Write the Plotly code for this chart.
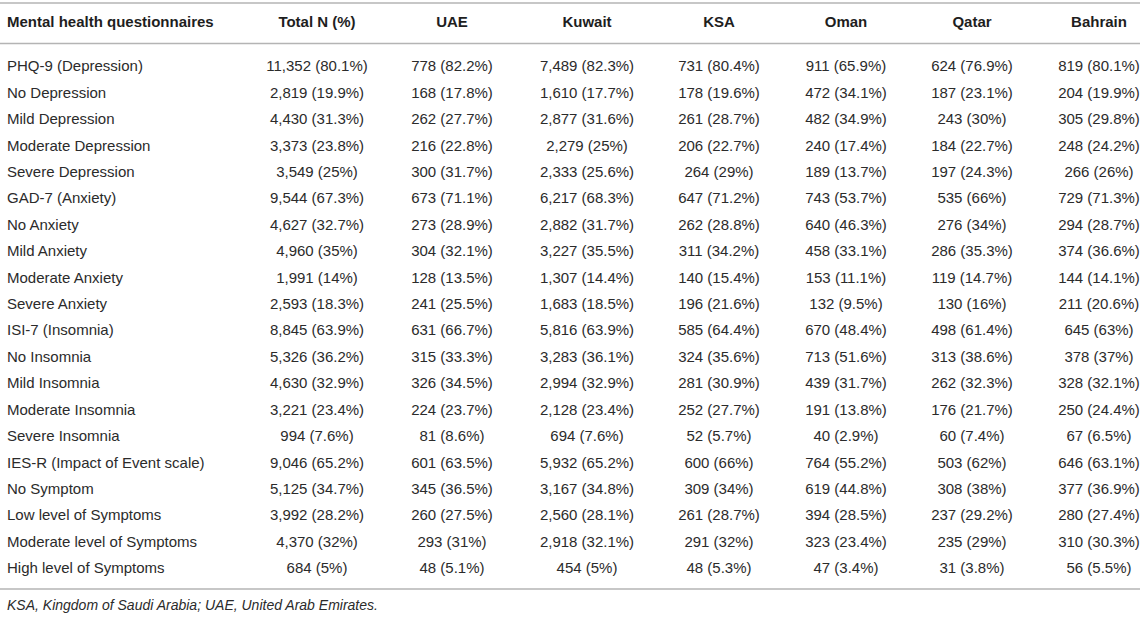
import plotly.graph_objects as go

# ---------------- data ----------------
headers = ["Mental health questionnaires", "Total N (%)", "UAE", "Kuwait", "KSA", "Oman", "Qatar", "Bahrain"]

rows = ["PHQ-9 (Depression)", "No Depression", "Mild Depression", "Moderate Depression", "Severe Depression",
        "GAD-7 (Anxiety)", "No Anxiety", "Mild Anxiety", "Moderate Anxiety", "Severe Anxiety",
        "ISI-7 (Insomnia)", "No Insomnia", "Mild Insomnia", "Moderate Insomnia", "Severe Insomnia",
        "IES-R (Impact of Event scale)", "No Symptom", "Low level of Symptoms", "Moderate level of Symptoms",
        "High level of Symptoms"]

total = ["11,352 (80.1%)", "2,819 (19.9%)", "4,430 (31.3%)", "3,373 (23.8%)", "3,549 (25%)",
         "9,544 (67.3%)", "4,627 (32.7%)", "4,960 (35%)", "1,991 (14%)", "2,593 (18.3%)",
         "8,845 (63.9%)", "5,326 (36.2%)", "4,630 (32.9%)", "3,221 (23.4%)", "994 (7.6%)",
         "9,046 (65.2%)", "5,125 (34.7%)", "3,992 (28.2%)", "4,370 (32%)", "684 (5%)"]
uae = ["778 (82.2%)", "168 (17.8%)", "262 (27.7%)", "216 (22.8%)", "300 (31.7%)",
       "673 (71.1%)", "273 (28.9%)", "304 (32.1%)", "128 (13.5%)", "241 (25.5%)",
       "631 (66.7%)", "315 (33.3%)", "326 (34.5%)", "224 (23.7%)", "81 (8.6%)",
       "601 (63.5%)", "345 (36.5%)", "260 (27.5%)", "293 (31%)", "48 (5.1%)"]
kuwait = ["7,489 (82.3%)", "1,610 (17.7%)", "2,877 (31.6%)", "2,279 (25%)", "2,333 (25.6%)",
          "6,217 (68.3%)", "2,882 (31.7%)", "3,227 (35.5%)", "1,307 (14.4%)", "1,683 (18.5%)",
          "5,816 (63.9%)", "3,283 (36.1%)", "2,994 (32.9%)", "2,128 (23.4%)", "694 (7.6%)",
          "5,932 (65.2%)", "3,167 (34.8%)", "2,560 (28.1%)", "2,918 (32.1%)", "454 (5%)"]
ksa = ["731 (80.4%)", "178 (19.6%)", "261 (28.7%)", "206 (22.7%)", "264 (29%)",
       "647 (71.2%)", "262 (28.8%)", "311 (34.2%)", "140 (15.4%)", "196 (21.6%)",
       "585 (64.4%)", "324 (35.6%)", "281 (30.9%)", "252 (27.7%)", "52 (5.7%)",
       "600 (66%)", "309 (34%)", "261 (28.7%)", "291 (32%)", "48 (5.3%)"]
oman = ["911 (65.9%)", "472 (34.1%)", "482 (34.9%)", "240 (17.4%)", "189 (13.7%)",
        "743 (53.7%)", "640 (46.3%)", "458 (33.1%)", "153 (11.1%)", "132 (9.5%)",
        "670 (48.4%)", "713 (51.6%)", "439 (31.7%)", "191 (13.8%)", "40 (2.9%)",
        "764 (55.2%)", "619 (44.8%)", "394 (28.5%)", "323 (23.4%)", "47 (3.4%)"]
qatar = ["624 (76.9%)", "187 (23.1%)", "243 (30%)", "184 (22.7%)", "197 (24.3%)",
         "535 (66%)", "276 (34%)", "286 (35.3%)", "119 (14.7%)", "130 (16%)",
         "498 (61.4%)", "313 (38.6%)", "262 (32.3%)", "176 (21.7%)", "60 (7.4%)",
         "503 (62%)", "308 (38%)", "237 (29.2%)", "235 (29%)", "31 (3.8%)"]
bahrain = ["819 (80.1%)", "204 (19.9%)", "305 (29.8%)", "248 (24.2%)", "266 (26%)",
           "729 (71.3%)", "294 (28.7%)", "374 (36.6%)", "144 (14.1%)", "211 (20.6%)",
           "645 (63%)", "378 (37%)", "328 (32.1%)", "250 (24.4%)", "67 (6.5%)",
           "646 (63.1%)", "377 (36.9%)", "280 (27.4%)", "310 (30.3%)", "56 (5.5%)"]

footnote = "KSA, Kingdom of Saudi Arabia; UAE, United Arab Emirates."

# ---------------- layout constants ----------------
W, H = 1143, 617
FONT = "Liberation Sans, Arial, Helvetica, sans-serif"
TXT = "#2b2b2b"
HDR = "#1e1e1e"
RULE = "#b4b4b4"
col_x = [7, 317, 452, 587, 719, 846, 972, 1099]   # first: left edge, others: centres
header_y = 23
row_y0, row_dy = 67.5, 26.42
rule_ys = [3, 43.5, 589]
rule_x = [0, 1140]
foot_y = 606

value_cols = [total, uae, kuwait, ksa, oman, qatar, bahrain]
row_ys = [row_y0 + i * row_dy for i in range(len(rows))]

fig = go.Figure()

def text_trace(xs, ys, texts, pos, size, color):
    return go.Scatter(x=xs, y=ys, mode="text", text=texts, textposition=pos,
                      textfont=dict(family=FONT, size=size, color=color),
                      cliponaxis=False, hoverinfo="skip", showlegend=False)

# header
fig.add_trace(text_trace([col_x[0]], [header_y], [f"<b>{headers[0]}</b>"], "middle right", 15, HDR))
fig.add_trace(text_trace(col_x[1:], [header_y] * (len(headers) - 1),
                         [f"<b>{h}</b>" for h in headers[1:]], "middle center", 15, HDR))

# row labels
fig.add_trace(text_trace([col_x[0]] * len(rows), row_ys, rows, "middle right", 15, TXT))

# value columns
for cx, col in zip(col_x[1:], value_cols):
    fig.add_trace(text_trace([cx] * len(col), row_ys, col, "middle center", 15, TXT))

# footnote
fig.add_trace(text_trace([col_x[0]], [foot_y], [f"<i>{footnote}</i>"], "middle right", 14, TXT))

for ry in rule_ys:
    fig.add_shape(type="line", x0=rule_x[0], x1=rule_x[1], y0=ry, y1=ry, xref="x", yref="y",
                  line=dict(color=RULE, width=1.5))

fig.update_layout(
    width=W, height=H, margin=dict(l=0, r=0, t=0, b=0),
    paper_bgcolor="white", plot_bgcolor="white",
    xaxis=dict(range=[0, W], visible=False, fixedrange=True),
    yaxis=dict(range=[H, 0], visible=False, fixedrange=True),
)

fig.write_html(
    "out.html",
    config={"displayModeBar": False},
    post_script="document.body.style.margin='0';document.body.style.overflow='hidden';",
)
